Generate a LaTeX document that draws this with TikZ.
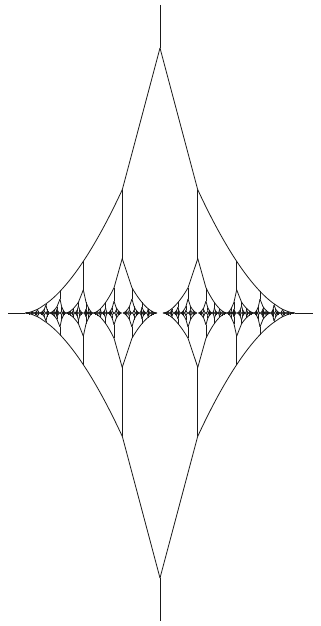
\documentclass[tikz,border=0pt]{standalone}
\usepackage{tikz}
\def\fratio{1.7}
\def\fminw{0.45}
% edge profile: straight to the first stem, then a cusp-like tail
\pgfmathdeclarefunction{fshape}{1}{\pgfmathparse{(#1<0.28) ? (1-1.9143*#1) : (0.8125*(max(1-#1,0.0001))^1.7)}}
\newcommand\fracunit[4]{% x0, H, WL, WR
 \begingroup
 \pgfmathsetmacro\fuX{#1}\pgfmathsetmacro\fuH{#2}\pgfmathsetmacro\fuL{#3}\pgfmathsetmacro\fuR{#4}%
 \pgfmathsetmacro\fns{int(max(5,min(45,(\fuH+\fuL+\fuR)/7)))}%
 \pgfmathsetmacro\fkH{0.464*\fuH}%
 \draw[frline] (\fuX,\fuH) -- (\fuX-0.28*\fuL,\fkH) -- plot[domain=0.28:1,samples=\fns,variable=\t] ({\fuX-\fuL*\t},{\fuH*fshape(\t)});
 \draw[frline] (\fuX,-\fuH) -- (\fuX-0.28*\fuL,-\fkH) -- plot[domain=0.28:1,samples=\fns,variable=\t] ({\fuX-\fuL*\t},{-\fuH*fshape(\t)});
 \draw[frline] (\fuX,\fuH) -- (\fuX+0.28*\fuR,\fkH) -- plot[domain=0.28:1,samples=\fns,variable=\t] ({\fuX+\fuR*\t},{\fuH*fshape(\t)});
 \draw[frline] (\fuX,-\fuH) -- (\fuX+0.28*\fuR,-\fkH) -- plot[domain=0.28:1,samples=\fns,variable=\t] ({\fuX+\fuR*\t},{-\fuH*fshape(\t)});
 \fracside{\fuX}{\fuH}{\fuL}{-1}%
 \fracside{\fuX}{\fuH}{\fuR}{1}%
 \endgroup}
\newcommand\fracside[4]{% x0, H, W, dir
 \begingroup
 \pgfmathsetmacro\fsX{#1}\pgfmathsetmacro\fsH{#2}\pgfmathsetmacro\fsW{#3}\pgfmathsetmacro\fsD{#4}%
 \foreach \fk in {1,...,10}{%
   \pgfmathsetmacro\fdk{0.72*0.6^(\fk-1)}%
   \pgfmathsetmacro\fsk{1-\fdk}%
   \pgfmathsetmacro\fBin{\fk==1 ? 0.022 : 1-0.7*\fdk/0.6}%
   \pgfmathsetmacro\fBout{1-0.7*\fdk}%
   \pgfmathsetmacro\fwi{\fsW*(\fsk-\fBin)}%
   \pgfmathsetmacro\fwo{\fsW*(\fBout-\fsk)}%
   \ifdim\fwo pt>\fminw pt
     \pgfmathsetmacro\fhp{\fsH*fshape(\fsk)}%
     \pgfmathsetmacro\fhs{min(\fratio*(\fwi+\fwo)/2,0.85*\fhp)}%
     \pgfmathsetmacro\fxs{\fsX+\fsD*\fsW*\fsk}%
     \draw[frline] (\fxs,\fhp) -- (\fxs,\fhs) (\fxs,-\fhs) -- (\fxs,-\fhp);
     \ifdim\fsD pt<0pt
       \fracunit{\fxs}{\fhs}{\fwo}{\fwi}%
     \else
       \fracunit{\fxs}{\fhs}{\fwi}{\fwo}%
     \fi
   \fi
 }%
 \endgroup}
\begin{document}
\begin{tikzpicture}[x=1pt,y=1pt,frline/.style={draw=black!90,line width=0.8pt,line join=round}]
\useasboundingbox (0,-313) rectangle (321,313);
\fill[white] (0,-313) rectangle (321,313);
\coordinate (top) at (160,308);
\coordinate (apex) at (160,265);
\coordinate (bot) at (160,-308);
\coordinate (nadir) at (160,-265);
\coordinate (lend) at (8,0);
\coordinate (ltip) at (25,0);
\coordinate (rend) at (313,0);
\coordinate (rtip) at (295,0);
\draw[frline] (top) -- (apex) (nadir) -- (bot) (lend) -- (ltip) (rtip) -- (rend);
\fracunit{160}{265}{135}{135}
\end{tikzpicture}
\end{document}
